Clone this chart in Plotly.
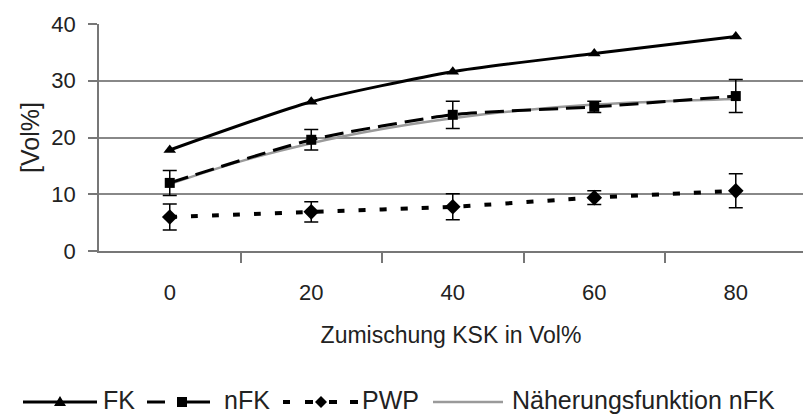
import plotly.graph_objects as go

# Zumischung KSK (Vol%)
ksk = [0, 20, 40, 60, 80]

# Feldkapazität, nutzbare Feldkapazität, permanenter Welkepunkt (Vol%)
fk = [17.8, 26.3, 31.6, 34.8, 37.8]
nfk = [12.0, 19.6, 24.0, 25.4, 27.3]
nfk_err = [2.2, 1.8, 2.4, 1.0, 2.9]
pwp = [6.0, 6.9, 7.8, 9.4, 10.6]
pwp_err = [2.3, 1.8, 2.3, 1.2, 3.0]

# Näherungsfunktion nFK
fit_x = [0, 10, 20, 30, 40, 50, 60, 70, 80]
fit_y = [11.8, 15.8, 19.0, 21.5, 23.4, 24.8, 25.8, 26.4, 26.8]

legend_names = ["FK", "nFK", "PWP", "Näherungsfunktion nFK"]

FONT = "Liberation Sans, Arial, sans-serif"
TXT = "#222"
AX = "#777"

W, H = 803, 414
ML, MT, MB = 99, 24, 163
PW, PH = W - ML, H - MT - MB

fig = go.Figure()

fig.add_trace(go.Scatter(
    x=fit_x, y=fit_y, name=legend_names[3], mode="lines",
    line=dict(color="#9a9a9a", width=2.5, shape="spline"),
))
fig.add_trace(go.Scatter(
    x=ksk, y=fk, name=legend_names[0], mode="lines+markers",
    line=dict(color="black", width=3, shape="spline", smoothing=0.6),
    marker=dict(symbol="triangle-up", size=11, color="black"),
))
fig.add_trace(go.Scatter(
    x=ksk, y=nfk, name=legend_names[1], mode="lines+markers",
    line=dict(color="black", width=3, dash="19px,8px", shape="spline", smoothing=0.6),
    marker=dict(symbol="square", size=10, color="black"),
    error_y=dict(type="data", array=nfk_err, color="black", thickness=1.5, width=7),
))
fig.add_trace(go.Scatter(
    x=ksk, y=pwp, name=legend_names[2], mode="lines+markers",
    line=dict(color="black", width=4, dash="7px,14px", shape="spline", smoothing=0.6),
    marker=dict(symbol="diamond", size=12, color="black"),
    error_y=dict(type="data", array=pwp_err, color="black", thickness=1.5, width=7),
))


# --- legend row below the axis title, built from shapes and annotations ---
def px(xp):
    return (xp - ML) / PW


def py(yp):
    return (MT + PH - yp) / PH


LEG_Y = 402      # symbol centre line
LEG_TXT_Y = 400  # text box centre
shapes = []
annotations = []


def seg(x0, x1, color="black", width=3):
    shapes.append(dict(type="line", xref="paper", yref="paper",
                       x0=px(x0), x1=px(x1), y0=py(LEG_Y), y1=py(LEG_Y),
                       line=dict(color=color, width=width)))


def poly(points):
    path = "M " + " L ".join(f"{px(a):.5f},{py(b):.5f}" for a, b in points) + " Z"
    shapes.append(dict(type="path", xref="paper", yref="paper", path=path,
                       fillcolor="black", line=dict(color="black", width=0)))


def label(x, text):
    annotations.append(dict(x=px(x), y=py(LEG_TXT_Y), xref="paper", yref="paper",
                            text=text, showarrow=False, xanchor="left",
                            yanchor="middle", font=dict(size=25, color=TXT)))


# FK: solid line with triangle
seg(23, 97)
poly([(54, LEG_Y + 4), (66, LEG_Y + 4), (60, LEG_Y - 6)])
label(101, legend_names[0])
# nFK: dashes with square
seg(147, 165)
seg(187, 210)
poly([(177, LEG_Y - 5), (187, LEG_Y - 5), (187, LEG_Y + 5), (177, LEG_Y + 5)])
label(222, legend_names[1])
# PWP: dots with diamond
for a, b in [(283, 290), (305, 313), (329, 337), (350, 358)]:
    seg(a, b, width=4)
poly([(315, LEG_Y), (321, LEG_Y - 6), (327, LEG_Y), (321, LEG_Y + 6)])
label(360, legend_names[2])
# Näherungsfunktion: grey line
seg(433, 503, color="#9a9a9a", width=2.5)
label(510, legend_names[3])

fig.update_layout(
    width=W, height=H,
    margin=dict(l=ML, r=0, t=MT, b=MB, autoexpand=False),
    paper_bgcolor="white", plot_bgcolor="white",
    font=dict(family=FONT, size=21, color=TXT),
    showlegend=False,
    shapes=shapes,
    annotations=annotations,
    xaxis=dict(
        range=[-10, 89.5], tickvals=ksk, ticktext=[str(v) for v in ksk],
        ticks="", showgrid=False, zeroline=False,
        showline=True, linecolor=AX, linewidth=1.5,
        tickfont=dict(size=22), ticklabelstandoff=21,
        minor=dict(tickvals=[10, 30, 50, 70], ticks="outside", ticklen=10,
                   tickcolor=AX, tickwidth=1.5, showgrid=False),
        title=dict(text="Zumischung KSK in Vol%", font=dict(size=23), standoff=23),
    ),
    yaxis=dict(
        range=[0, 40], tickvals=[0, 10, 20, 30, 40],
        ticks="outside", ticklen=9, tickcolor=AX, tickwidth=1.5,
        showgrid=True, gridcolor="#888", gridwidth=1.5, zeroline=False,
        showline=True, linecolor=AX, linewidth=1.5,
        tickfont=dict(size=22), ticklabelstandoff=8,
        title=dict(text="[Vol%]", font=dict(size=25), standoff=5),
    ),
)

fig.write_html("out.html")
